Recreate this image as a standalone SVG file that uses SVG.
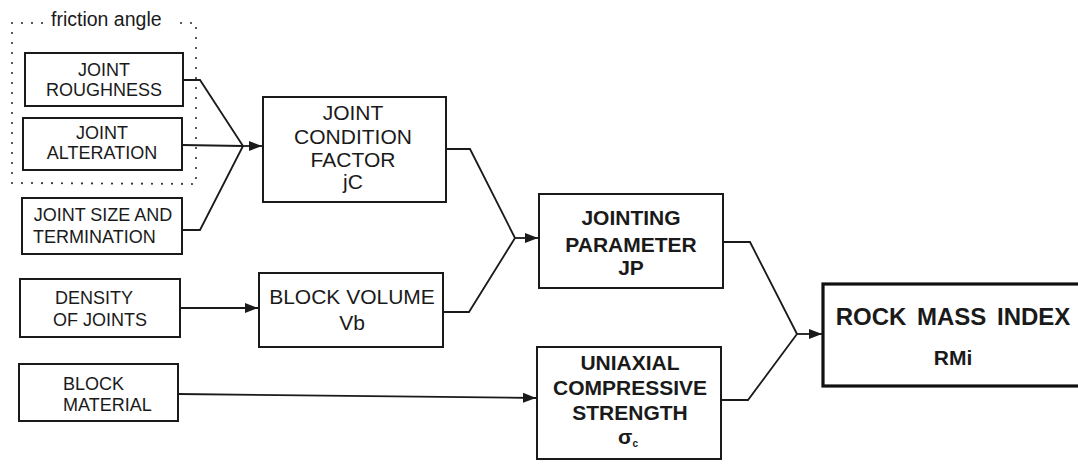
<svg xmlns="http://www.w3.org/2000/svg" width="1078" height="464" viewBox="0 0 1078 464">
<style>
.box{fill:#fff;stroke:#1a1a1a;stroke-width:2}
.big{fill:#fff;stroke:#111;stroke-width:3.2}
.t{font-family:"Liberation Sans",Arial,sans-serif;fill:#1a1a1a;font-size:18px}
.m{font-size:21px;text-anchor:middle}
.b{font-weight:bold}
.c{text-anchor:middle}
.con{fill:none;stroke:#1a1a1a;stroke-width:1.8;stroke-linejoin:miter}
.dot{fill:none;stroke:#333;stroke-width:2.2;stroke-linecap:round;stroke-dasharray:0 10}
</style>
<defs>
<marker id="arr" markerUnits="userSpaceOnUse" markerWidth="14" markerHeight="12" refX="13" refY="6" orient="auto">
<path d="M0,1 L13,6 L0,11 Z" fill="#1a1a1a"/>
</marker>
</defs>
<g id="friction-group">
<path class="dot" d="M42,23 L12,23 L12,183 L196,184 L196,23 L172,23"/>
<text class="t" x="51" y="26" style="font-size:19.5px">friction angle</text>
</g>
<g id="joint-roughness">
<rect class="box" x="25" y="53" width="158" height="53"/>
<text class="t c" x="104" y="76">JOINT</text>
<text class="t c" x="104" y="96">ROUGHNESS</text>
</g>
<g id="joint-alteration">
<rect class="box" x="23" y="118" width="159" height="52"/>
<text class="t c" x="102" y="139">JOINT</text>
<text class="t c" x="102" y="159">ALTERATION</text>
</g>
<g id="joint-size">
<rect class="box" x="22" y="198" width="160" height="56"/>
<text class="t c" x="103" y="221">JOINT SIZE AND</text>
<text class="t" x="33" y="243">TERMINATION</text>
</g>
<g id="density">
<rect class="box" x="20" y="279" width="160" height="58"/>
<text class="t" x="55" y="304">DENSITY</text>
<text class="t" x="53" y="326">OF JOINTS</text>
</g>
<g id="block-material">
<rect class="box" x="19" y="364" width="159" height="57"/>
<text class="t" x="63" y="390">BLOCK</text>
<text class="t" x="63" y="411">MATERIAL</text>
</g>
<g id="jcf">
<rect class="box" x="263" y="97" width="183" height="105"/>
<text class="t m" x="353" y="120">JOINT</text>
<text class="t m" x="353" y="144">CONDITION</text>
<text class="t m" x="353" y="167">FACTOR</text>
<text class="t m" x="353" y="189">jC</text>
</g>
<g id="block-volume">
<rect class="box" x="259" y="273" width="184" height="74"/>
<text class="t m" x="352" y="304">BLOCK VOLUME</text>
<text class="t m" x="352" y="330">Vb</text>
</g>
<g id="jp">
<rect class="box" x="539" y="194" width="184" height="94"/>
<text class="t m b" x="631" y="225">JOINTING</text>
<text class="t m b" x="631" y="252">PARAMETER</text>
<text class="t m b" x="631" y="275">JP</text>
</g>
<g id="ucs">
<rect class="box" x="537" y="347" width="184" height="112"/>
<text class="t m b" x="630" y="370">UNIAXIAL</text>
<text class="t m b" x="630" y="395">COMPRESSIVE</text>
<text class="t m b" x="630" y="420">STRENGTH</text>
<text class="t m b" x="628" y="444">σ<tspan style="font-size:10px" dy="3">c</tspan></text>
</g>
<g id="rmi">
<rect class="big" x="823" y="284" width="270" height="102"/>
<text class="t b c" x="953" y="325" style="font-size:24px" word-spacing="4">ROCK MASS INDEX</text>
<text class="t b c" x="953" y="365" style="font-size:21px">RMi</text>
</g>
<g id="connectors">
<path class="con" d="M183,80 L200,80 L243,146"/>
<path class="con" d="M182,145 L243,146"/>
<path class="con" d="M182,230 L200,230 L243,146"/>
<path class="con" d="M243,146 L262,146" marker-end="url(#arr)"/>
<path class="con" d="M180,308 L258,308" marker-end="url(#arr)"/>
<path class="con" d="M446,149 L470,149 L515,238"/>
<path class="con" d="M443,312 L469,312 L515,238"/>
<path class="con" d="M515,238 L538,238" marker-end="url(#arr)"/>
<path class="con" d="M178,394 L536,398" marker-end="url(#arr)"/>
<path class="con" d="M723,242 L750,242 L797,334"/>
<path class="con" d="M721,400 L748,400 L797,334"/>
<path class="con" d="M797,334 L822,334" marker-end="url(#arr)"/>
</g>
</svg>
